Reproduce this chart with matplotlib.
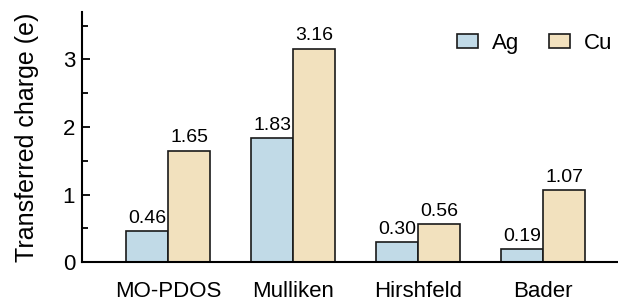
import matplotlib
matplotlib.use("Agg")
import matplotlib.pyplot as plt
import numpy as np

# Data
methods = ["MO-PDOS", "Mulliken", "Hirshfeld", "Bader"]
ag_values = [0.46, 1.83, 0.30, 0.19]
cu_values = [1.65, 3.16, 0.56, 1.07]
series_names = ["Ag", "Cu"]

plt.rcParams["font.family"] = ["Liberation Sans", "DejaVu Sans"]

fig = plt.figure(figsize=(6.18, 3.04), dpi=100)
ax = fig.add_axes([0.133, 0.138, 0.867, 0.822])

x = np.arange(len(methods))
width = 0.336
colors = ["#c1dae7", "#f2e1be"]

for offset, vals, name, color in [(-width / 2, ag_values, series_names[0], colors[0]),
                                  (width / 2, cu_values, series_names[1], colors[1])]:
    bars = ax.bar(x + offset, vals, width, color=color, edgecolor="#1a1a1a",
                  linewidth=1.2, label=name)
    for b, v in zip(bars, vals):
        ax.annotate(f"{v:.2f}", (b.get_x() + b.get_width() / 2, v),
                    xytext=(0, 3), textcoords="offset points",
                    ha="center", va="bottom", fontsize=14)

ax.set_xlim(-0.69, 3.6)
ax.set_ylim(0, 3.7)
ax.set_yticks([0, 1, 2, 3])
ax.set_yticks(np.arange(0.5, 3.6, 1.0), minor=True)
ax.set_xticks(x)
ax.set_xticklabels(methods, fontsize=16)
ax.tick_params(axis="y", direction="in", labelsize=16, length=6, width=1.3, pad=5)
ax.tick_params(axis="y", which="minor", direction="in", length=4, width=1.3)
ax.tick_params(axis="x", length=0, pad=14)
ax.set_ylabel("Transferred charge (e)", fontsize=18, labelpad=17)

for side in ["top", "right"]:
    ax.spines[side].set_visible(False)
for side in ["left", "bottom"]:
    ax.spines[side].set_linewidth(1.5)

ax.legend(loc="upper right", ncol=2, frameon=False, fontsize=16,
          handlelength=0.95, handleheight=0.63, columnspacing=1.3,
          handletextpad=0.63, bbox_to_anchor=(632 / 618, 1 - 13 / 304),
          bbox_transform=fig.transFigure)

fig.savefig("out.png", dpi=100)
